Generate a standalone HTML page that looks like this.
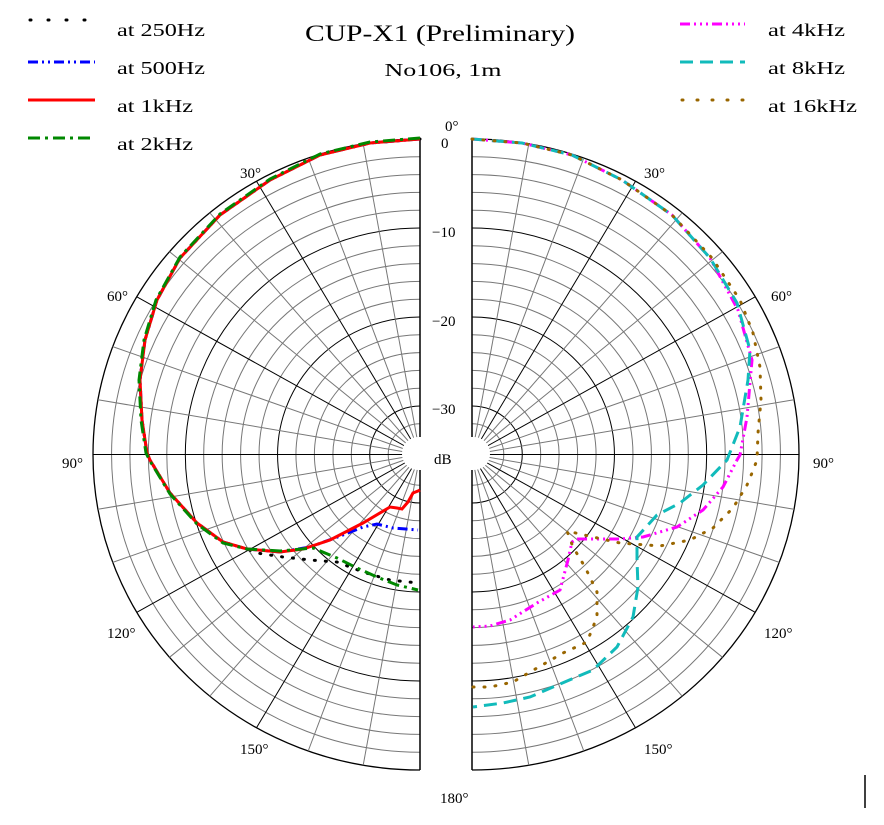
<!DOCTYPE html>
<html><head><meta charset="utf-8"><style>
html,body{margin:0;padding:0;background:#fff}
svg text{font-family:"Liberation Serif","Noto Serif CJK SC",serif;fill:#000}
</style></head><body>
<svg id="s" width="884" height="820" viewBox="0 0 884 820" xmlns="http://www.w3.org/2000/svg">
<g id="grid"></g>
<rect x="402" y="437" width="88" height="33" rx="16" fill="#fff"/>
<g fill="none" stroke-width="3">
<path d="M420,139 L370,143 L320,155 L270,180 L220,215 L180,258 L157,300 L145,340 L140,380 L142,420 L147,453 L150,460 L170,493 L197,523 L223,542 L247,549 L257,553 L283,557 L310,560 L337,562 L363,572 L390,580 L418,583" stroke="#000" stroke-dasharray="1,10" stroke-linecap="round"/>
<path d="M420,139 L370,143 L320,155 L270,180 L220,215 L180,258 L157,300 L145,340 L140,380 L142,420 L147,453 L150,460 L170,493 L197,523 L223,542 L247,549 L280,552 L310,547 L343,535 L363,527 L377,524 L393,528 L418,530" stroke="#00f" stroke-dasharray="10,4,2,4,2,4"/>
<path d="M420,139 L370,143 L320,155 L270,180 L220,215 L180,258 L157,300 L145,340 L140,380 L142,420 L147,453 L150,460 L170,493 L197,523 L223,542 L247,549 L280,552 L303,549 L330,540 L363,523 L390,507 L397,508 L402,509 L408,502 L413,493 L418,491 L420,490" stroke="#f00"/>
<path d="M420,138 L370,142 L320,154 L270,179 L220,214 L180,257 L156,300 L144,340 L139,380 L141,420 L146,453 L150,461 L170,494 L197,524 L223,543 L247,549 L280,551 L313,548 L337,558 L357,568 L377,577 L397,585 L418,590" stroke="#080" stroke-dasharray="12,5,3,5"/>
<path d="M472,139 L522,143 L572,155 L622,180 L672,215 L710,258 L738,310 L752,360 L747,417 L740,455 L737,460 L723,487 L703,510 L677,527 L643,537 L620,539 L577,539 L572,542 L568,560 L560,590 L537,603 L510,620 L490,626 L473,627" stroke="#f0f" stroke-dasharray="10,4,2,4,2,4,2,4"/>
<path d="M472,139 L522,143 L572,155 L622,180 L672,215 L710,258 L737,303 L750,350 L748,380 L740,427 L727,460 L703,485 L680,503 L657,515 L637,537 L637,560 L638,587 L633,617 L617,647 L593,670 L553,687 L530,697 L503,703 L473,707" stroke="#1bb" stroke-dasharray="13,7"/>
<path d="M472,139 L522,143 L572,155 L622,180 L672,215 L712,258 L740,300 L753,333 L760,367 L761,400 L758,433 L757,460 L752,473 L747,485 L733,508 L713,528 L690,540 L660,546 L620,543 L593,537 L567,531 L573,547 L585,567 L597,592 L597,617 L587,642 L563,653 L537,668 L513,682 L490,687 L473,687" stroke="#960" stroke-dasharray="1,10" stroke-linecap="round"/>
</g>
<g font-size="18">
<text x="440" y="41" text-anchor="middle" font-size="23" textLength="270" lengthAdjust="spacingAndGlyphs">CUP-X1 (Preliminary)</text>
<text x="443" y="76" text-anchor="middle" textLength="117" lengthAdjust="spacingAndGlyphs">No106, 1m</text>
<text x="117" y="36" textLength="88" lengthAdjust="spacingAndGlyphs">at 250Hz</text>
<text x="117" y="74" textLength="88" lengthAdjust="spacingAndGlyphs">at 500Hz</text>
<text x="117" y="112" textLength="76" lengthAdjust="spacingAndGlyphs">at 1kHz</text>
<text x="117" y="150" textLength="76" lengthAdjust="spacingAndGlyphs">at 2kHz</text>
<text x="768" y="36" textLength="77" lengthAdjust="spacingAndGlyphs">at 4kHz</text>
<text x="768" y="74" textLength="77" lengthAdjust="spacingAndGlyphs">at 8kHz</text>
<text x="768" y="112" textLength="89" lengthAdjust="spacingAndGlyphs">at 16kHz</text>
</g>
<g fill="none" stroke-width="3">
<line x1="30" y1="20" x2="95" y2="20" stroke="#000" stroke-dasharray="1,17" stroke-linecap="round"/>
<line x1="28" y1="62" x2="95" y2="62" stroke="#00f" stroke-dasharray="10,4,2,4,2,4"/>
<line x1="28" y1="100" x2="95" y2="100" stroke="#f00"/>
<line x1="28" y1="138" x2="95" y2="138" stroke="#080" stroke-dasharray="12,5,3,5"/>
<line x1="680" y1="24" x2="745" y2="24" stroke="#f0f" stroke-dasharray="10,4,2,4,2,4,2,4"/>
<line x1="680" y1="62" x2="745" y2="62" stroke="#1bb" stroke-dasharray="13,7"/>
<line x1="682" y1="100" x2="745" y2="100" stroke="#960" stroke-dasharray="1,14" stroke-linecap="round"/>
</g>
<g font-size="15">
<text x="445" y="131">0°</text><text x="440" y="803">180°</text>
<text x="240" y="178">30°</text><text x="107" y="301">60°</text><text x="62" y="468">90°</text><text x="107" y="638">120°</text><text x="240" y="754">150°</text>
<text x="644" y="178">30°</text><text x="771" y="301">60°</text><text x="813" y="468">90°</text><text x="764" y="638">120°</text><text x="644" y="754">150°</text>
<text x="441" y="148">0</text><text x="432" y="237">−10</text><text x="432" y="326">−20</text><text x="432" y="414">−30</text><text x="434" y="464">dB</text>
</g>
<line x1="865" y1="775" x2="865" y2="808" stroke="#000" stroke-width="1.5"/>
</svg>
<script>
(function(){
var g=document.getElementById('grid'),h='';
var cy=454.5,RX=327,RY=315.5;
function f(db){return 1+db/35.45;}
[[420,-1],[472,1]].forEach(function(c){
 var cx=c[0],s=c[1];
 for(var db=0;db>=-32;db-=2){
  var k=f(db),rx=RX*k,ry=RY*k;
  var col=(db%10==0)?'#000':'#777',w=(db==0)?1.3:1;
  h+='<path d="M'+cx+','+(cy-ry)+' A'+rx+','+ry+' 0 0 '+(s>0?1:0)+' '+cx+','+(cy+ry)+'" fill="none" stroke="'+col+'" stroke-width="'+w+'"/>';
 }
 for(var a=10;a<180;a+=10){
  var t=a*Math.PI/180;
  var x=cx+s*RX*Math.sin(t),y=cy-RY*Math.cos(t);
  var col=(a%30==0)?'#000':'#777';
  h+='<line x1="'+cx+'" y1="'+cy+'" x2="'+x.toFixed(1)+'" y2="'+y.toFixed(1)+'" stroke="'+col+'" stroke-width="1"/>';
 }
 h+='<line x1="'+cx+'" y1="'+(cy-RY)+'" x2="'+cx+'" y2="'+(cy+RY)+'" stroke="#000" stroke-width="1.5"/>';
});
g.innerHTML=h;
})();
</script>
</body></html>
